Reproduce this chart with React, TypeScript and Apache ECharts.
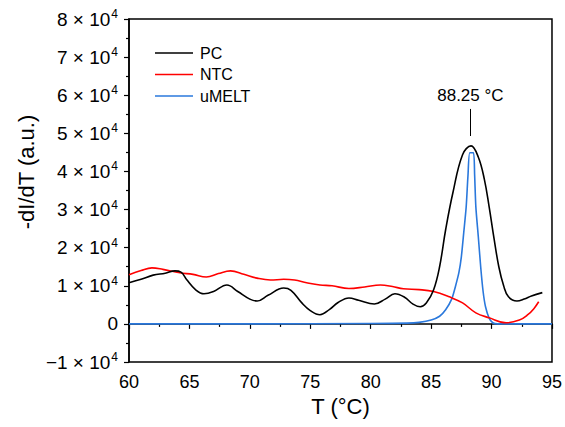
import React, { useEffect, useRef } from "react";
import * as echarts from "echarts";

const pcT = [60.0, 61.0, 62.0, 63.0, 63.8, 64.3, 64.8, 65.5, 66.2, 67.0, 68.1, 69.0, 70.0, 70.6, 71.5, 72.8, 73.4, 74.3, 75.0, 75.8, 76.6, 77.3, 78.2, 79.0, 80.3, 81.2, 82.0, 82.8, 83.5, 84.1, 84.6, 85.2, 85.7, 86.2, 86.8, 87.6, 88.3, 88.9, 89.4, 89.8, 90.2, 90.6, 91.0, 91.4, 92.1, 92.7, 93.3, 94.2];
const pcV = [1.08, 1.17, 1.28, 1.33, 1.39, 1.36, 1.15, 0.9, 0.79, 0.85, 1.02, 0.85, 0.65, 0.6, 0.75, 0.94, 0.88, 0.55, 0.35, 0.24, 0.38, 0.56, 0.68, 0.62, 0.52, 0.65, 0.79, 0.7, 0.52, 0.45, 0.55, 0.89, 1.5, 2.47, 3.44, 4.44, 4.67, 4.38, 3.8, 3.07, 2.25, 1.5, 1.0, 0.71, 0.6, 0.65, 0.73, 0.82];

const ntcT = [60.0, 61.0, 61.9, 62.8, 64.2, 65.3, 66.4, 67.4, 68.4, 69.5, 70.6, 71.7, 72.8, 73.7, 74.7, 75.8, 76.8, 78.2, 79.5, 80.8, 81.8, 82.7, 84.0, 85.2, 86.5, 87.6, 88.7, 89.8, 91.2, 92.3, 93.0, 93.5, 93.9];
const ntcV = [1.29, 1.4, 1.47, 1.43, 1.34, 1.3, 1.23, 1.32, 1.39, 1.3, 1.2, 1.15, 1.17, 1.15, 1.08, 1.02, 1.0, 0.93, 0.97, 1.02, 0.98, 0.92, 0.9, 0.85, 0.71, 0.55, 0.29, 0.16, 0.03, 0.1, 0.24, 0.4, 0.58];

const umeltT = [60, 70, 80, 83, 84, 85, 85.7, 86.2, 86.7, 87.0, 87.3, 87.5, 87.7, 87.9, 88.05, 88.2, 88.5, 88.6, 88.7, 88.9, 89.1, 89.3, 89.5, 89.8, 90.1, 90.5, 92, 95];
const umeltV = [0.0, 0.0, 0.01, 0.02, 0.04, 0.1, 0.2, 0.37, 0.65, 0.97, 1.35, 1.76, 2.4, 3.07, 3.9, 4.49, 4.49, 3.9, 3.07, 2.3, 1.5, 0.85, 0.45, 0.15, 0.03, 0.0, 0.0, 0.0];

const SCALE = 1e4;
const peakT = 88.25;
const peakLabel = "88.25 °C";
const seriesNames = ["PC", "NTC", "uMELT"];
const seriesColors = ["#000000", "#ff0000", "#2a78dc"];

const FONT = "Liberation Sans, Arial, Helvetica, sans-serif";

function toPairs(t: number[], v: number[]) {
  return t.map((x, i) => [x, v[i] * SCALE]);
}

export default function App() {
  const ref = useRef<HTMLDivElement>(null);
  useEffect(() => {
    if (!ref.current) return;
    const chart = echarts.init(ref.current, null, { renderer: "svg" });
    const yFmt = (v: number) => {
      if (Math.abs(v) < 1e-9) return "{a|0}";
      const m = Math.round(v / SCALE);
      const s = (m < 0 ? "\u2212" : "") + Math.abs(m);
      return `{a|${s} × 10}{s|4}`;
    };
    const mk = (i: number, data: number[][], extra: any = {}) => ({
      name: seriesNames[i],
      type: "line",
      data,
      showSymbol: false,
      symbol: "none",
      smooth: 0.4,
      lineStyle: { color: seriesColors[i], width: 1.6 },
      itemStyle: { color: seriesColors[i] },
      z: 3 - i,
      ...extra,
    });
    chart.setOption({
      animation: false,
      textStyle: { fontFamily: FONT },
      grid: {
        left: 129,
        right: 9,
        top: 19,
        bottom: 65,
        show: true,
        borderColor: "#000",
        borderWidth: 1.5,
        backgroundColor: "transparent",
      },
      legend: {
        orient: "vertical",
        left: 150,
        top: 39,
        icon: "rect",
        itemWidth: 38,
        itemHeight: 1.5,
        itemGap: 3.5,
        data: seriesNames,
        textStyle: { fontSize: 16, color: "#000", fontFamily: FONT, lineHeight: 18, padding: [0, 0, 0, 2] },
      },
      xAxis: {
        type: "value",
        min: 60,
        max: 95,
        interval: 5,
        name: "T (°C)",
        nameLocation: "middle",
        nameGap: 31,
        nameTextStyle: { fontSize: 22, color: "#000", fontFamily: FONT },
        axisLine: { show: true, lineStyle: { color: "#000", width: 1.5 } },
        axisTick: { show: true, inside: false, length: 5, lineStyle: { color: "#000", width: 1.2 } },
        minorTick: { show: true, splitNumber: 2, length: 3, lineStyle: { color: "#000", width: 1.2 } },
        axisLabel: { fontSize: 18, color: "#000", margin: 11, fontFamily: FONT },
        splitLine: { show: false },
      },
      yAxis: {
        type: "value",
        min: -10000,
        max: 80000,
        interval: 10000,
        axisLine: { show: true, lineStyle: { color: "#000", width: 1.5 } },
        axisTick: { show: true, inside: false, length: 5, lineStyle: { color: "#000", width: 1.2 } },
        minorTick: { show: true, splitNumber: 2, length: 3, lineStyle: { color: "#000", width: 1.2 } },
        axisLabel: {
          margin: 11,
          formatter: yFmt,
          rich: {
            a: { fontSize: 19, color: "#000", fontFamily: FONT, lineHeight: 22 },
            s: { fontSize: 12, color: "#000", fontFamily: FONT, verticalAlign: "top", lineHeight: 22, padding: [0, 0, 10, 1] },
          },
        },
        splitLine: { show: false },
      },
      graphic: [
        {
          type: "text",
          x: 26,
          y: 172,
          rotation: Math.PI / 2,
          style: {
            text: "-dI/dT (a.u.)",
            fontSize: 22,
            fontFamily: FONT,
            fill: "#000",
            align: "center",
            verticalAlign: "middle",
          },
        },
      ],
      series: [
        mk(0, toPairs(pcT, pcV), {
          markLine: {
            silent: true,
            symbol: ["none", "none"],
            lineStyle: { color: "#000", width: 1, type: "solid" },
            label: {
              show: true,
              position: "end",
              formatter: peakLabel,
              fontSize: 17,
              color: "#000",
              fontFamily: FONT,
              distance: 5,
            },
            data: [[{ coord: [peakT, 4.93 * SCALE] }, { coord: [peakT, 5.64 * SCALE] }]],
          },
        }),
        mk(1, toPairs(ntcT, ntcV)),
        mk(2, toPairs(umeltT, umeltV), { smooth: 0.25 }),
      ],
    });
    return () => chart.dispose();
  }, []);
  return (
    <div
      ref={ref}
      style={{ position: "fixed", left: 0, top: 0, width: 565, height: 427, background: "#fff" }}
    />
  );
}
